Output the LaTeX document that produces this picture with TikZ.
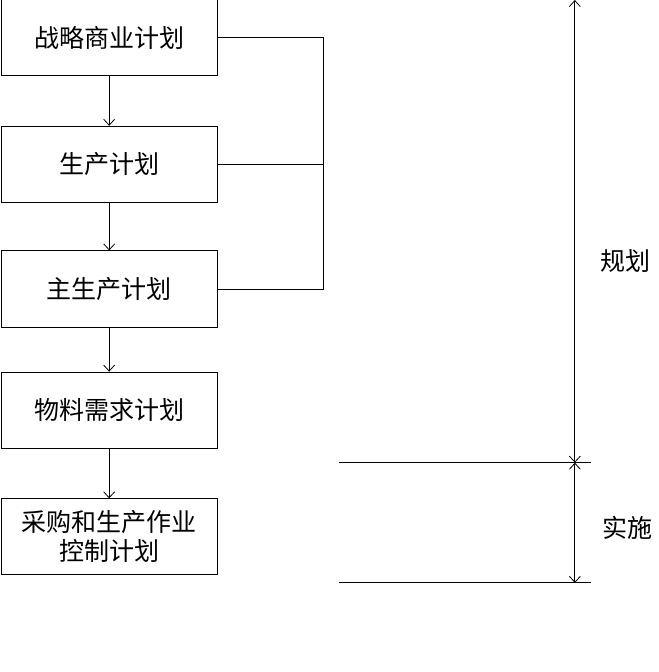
\documentclass[tikz,border=0pt]{standalone}
\usepackage{fontspec}
\setmainfont{Noto Sans CJK SC}
\usetikzlibrary{arrows.meta, positioning}
\tikzset{
  every picture/.style={line width=0.8pt, x=1pt, y=-1pt},
  stage/.style={draw, minimum width=216pt, minimum height=76pt, align=center, inner sep=2pt, font=\fontsize{25}{29}\selectfont},
  arrow/.style={-{Straight Barb[length=6pt, width=11pt]}},
  dblarrow/.style={{Straight Barb[length=6pt, width=11pt]}-{Straight Barb[length=6pt, width=11pt]}},
  phase/.style={font=\fontsize{25}{29}\selectfont, inner sep=0pt},
}
\begin{document}
\begin{tikzpicture}
  \useasboundingbox (0,1) rectangle (658,672);
  % planning chain
  \foreach \name/\y/\txt in {sbp/38.5/战略商业计划, pp/165/生产计划, mps/289.5/主生产计划, mrp/410.5/物料需求计划, pac/537/采购和生产作业\\控制计划} {
    \node[stage] (\name) at (109,\y) {\txt};
  }
  \foreach \a/\b in {sbp/pp, pp/mps, mps/mrp, mrp/pac} {
    \draw[arrow] (\a.south) -- (\b.north);
  }
  % feedback bracket
  \coordinate (fb) at (323,0);
  \draw (sbp.east) -- (sbp.east -| fb) |- (mps.east);
  \draw (pp.east) -- (pp.east -| fb);
  % phases
  \coordinate (ptop) at (574,1);
  \coordinate (pmid) at (574,463);
  \coordinate (pbot) at (574,583);
  \draw ([xshift=-236pt]pmid) -- ([xshift=16pt]pmid);
  \draw ([xshift=-236pt]pbot) -- ([xshift=16pt]pbot);
  \draw[dblarrow] (pmid) -- (ptop);
  \draw[dblarrow] (pmid) -- (pbot);
  \node[phase] (plan) at (625,262) {规划};
  \node[phase] (impl) at (627,528) {实施};
\end{tikzpicture}
\end{document}
